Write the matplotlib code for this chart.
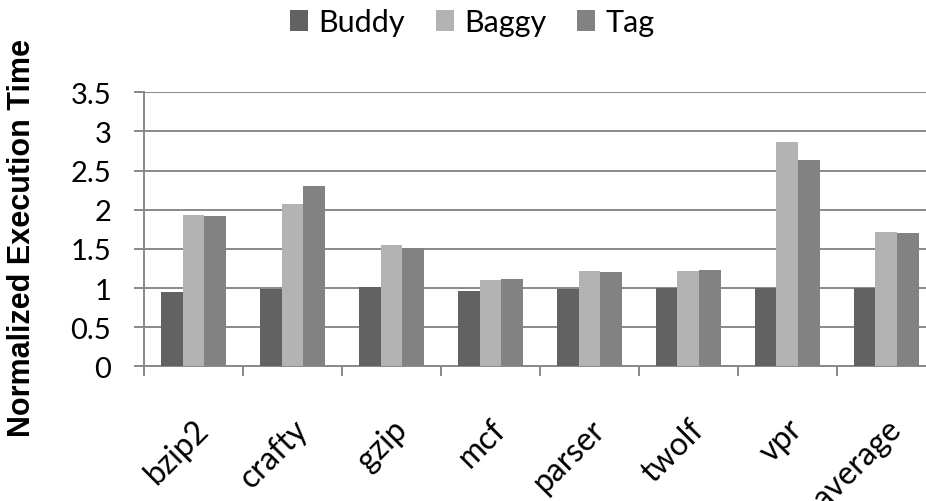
import numpy as np
import matplotlib
matplotlib.use('Agg')
from matplotlib import pyplot as plt
from matplotlib import transforms

# benchmark names and normalized execution times
benchmarks = ['bzip2', 'crafty', 'gzip', 'mcf', 'parser', 'twolf', 'vpr', 'average']
buddy = [0.95, 0.99, 1.01, 0.96, 0.99, 1.00, 1.00, 1.00]
baggy = [1.93, 2.07, 1.55, 1.10, 1.22, 1.22, 2.86, 1.71]
tag = [1.92, 2.30, 1.51, 1.12, 1.20, 1.23, 2.64, 1.70]

series = [('Buddy', buddy, '#626262'), ('Baggy', baggy, '#b3b3b3'), ('Tag', tag, '#828282')]

plt.rcParams['font.family'] = ['Lato', 'DejaVu Sans']
grid_gray = '#898989'

fig = plt.figure(figsize=(9.26, 5.02), dpi=100)
# axes run slightly past the right edge of the figure
ax = fig.add_axes([0.1555, 0.2683, 0.855, 0.546])

x = np.arange(len(benchmarks))
w = 0.219
for i, (nome, vals, cor) in enumerate(series):
    ax.bar(x + (i - 1) * w, vals, w, color=cor, label=nome, zorder=3)

ax.set_xlim(-0.5, len(benchmarks) - 0.5)
ax.set_ylim(0, 3.5)
ax.set_yticks(np.arange(0, 3.51, 0.5))
ax.set_yticklabels(['%g' % v for v in np.arange(0, 3.51, 0.5)])
ax.yaxis.grid(True, color=grid_gray, linewidth=1.4, zorder=0)
ax.set_axisbelow(True)

# category ticks sit between the groups, labels at the centers
ax.set_xticks(np.arange(len(benchmarks) + 1) - 0.5)
ax.set_xticklabels([])
ax.set_xticks(x, minor=True)
ax.set_xticklabels(benchmarks, minor=True, rotation=45, ha='right', va='top',
                   rotation_mode='anchor', fontsize=23)
desloc = transforms.ScaledTranslation(3 / 100, 0, fig.dpi_scale_trans)
for lbl in ax.get_xticklabels(minor=True):
    lbl.set_transform(lbl.get_transform() + desloc)
ax.tick_params(axis='x', which='minor', length=0, pad=34)
ax.tick_params(axis='x', which='major', length=7.5, width=1.4, color=grid_gray, direction='out')
ax.tick_params(axis='y', length=7.5, width=1.4, color=grid_gray, labelsize=21, pad=16)

for s in ['top', 'right']:
    ax.spines[s].set_visible(False)
for s in ['left', 'bottom']:
    ax.spines[s].set_color(grid_gray)
    ax.spines[s].set_linewidth(1.4)

fig.text(0.024, 0.526, 'Normalized Execution Time', rotation=90, ha='center', va='center',
         fontsize=22, fontweight='bold', family=['Liberation Sans', 'DejaVu Sans'])

fig.legend(loc='center', bbox_to_anchor=(0.51, 0.954), ncol=3, frameon=False,
           fontsize=22, handlelength=0.6, handleheight=0.65, handletextpad=0.33,
           columnspacing=1.0, borderpad=0.2)

plt.savefig('out.png', dpi=100)
plt.close()
